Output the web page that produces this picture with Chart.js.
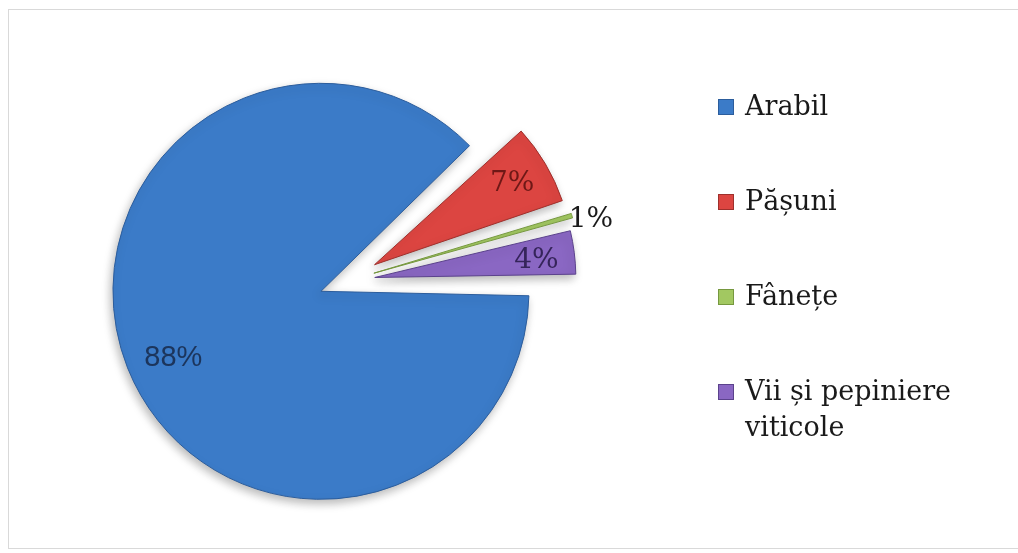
<!DOCTYPE html>
<html>
<head>
<meta charset="utf-8">
<script src="https://cdn.jsdelivr.net/npm/chart.js@4.4.0/dist/chart.umd.min.js"></script>
<style>
  html, body { margin: 0; padding: 0; background: #fff; overflow: hidden; }
  #frame { position: absolute; left: 8px; top: 9px; width: 1030px; height: 540px; border: 1px solid #d9d9d9; box-sizing: border-box; }
  #wrap { position: absolute; left: 0; top: 0; width: 1018px; height: 553px; }
</style>
</head>
<body>
<div id="frame"></div>
<div id="wrap"><canvas id="pieChart"></canvas></div>
<script>
// --- DATA ---
const categories = ['Arabil', 'Pășuni', 'Fânețe', 'Vii și pepiniere viticole'];
const shares = [88, 7, 1, 4];
const shareLabels = ['88%', '7%', '1%', '4%'];

// --- STYLE ---
const sliceColors = ['#3b7bc8', '#dc4541', '#a2c861', '#8a67c3'];
const sliceBorders = ['#2c5d9c', '#9e302c', '#76983f', '#5b428c'];
const sliceOffsets = [112, 128, 112, 112];   // Chart.js v4 moves a slice by offset/4
const labelStyles = [
    { font: '29px "Liberation Sans"', color: '#1c355c', dist: 162, dx: 3, dy: 7 },
    { font: '28px "DejaVu Serif"', color: '#6e1816', dist: 160, dx: 0, dy: 0 },
    { font: '28px "DejaVu Serif"', color: '#1a1a1a', dist: 206, dx: -3, dy: 0, outside: true },
    { font: '28px "DejaVu Serif"', color: '#35245a', dist: 161, dx: 2, dy: 3 }
];
const LEGEND_X = 718;
const LEGEND_TOP = 115;      // baseline of first entry
const LEGEND_STEP = 95;
const LEGEND_LINE = 36;
const LEGEND_FONT = '27px "DejaVu Serif"';
const LEGEND_WRAP = 250;

// soft drop shadow under the slices
const shadowPlugin = {
    id: 'shadow',
    beforeDatasetsDraw(chart) {
        const ctx = chart.ctx;
        ctx.save();
        ctx.shadowColor = 'rgba(0,0,0,0.28)';
        ctx.shadowBlur = 10;
        ctx.shadowOffsetX = -2;
        ctx.shadowOffsetY = 4;
    },
    afterDatasetsDraw(chart) {
        chart.ctx.restore();
    }
};

// percentage labels, placed relative to each (exploded) slice
const pctPlugin = {
    id: 'pctLabels',
    afterDraw(chart) {
        const ctx = chart.ctx;
        const arcs = chart.getDatasetMeta(0).data;
        arcs.forEach((arc, i) => {
            const st = labelStyles[i];
            const mid = (arc.startAngle + arc.endAngle) / 2;
            const shift = (arc.options.offset || 0) / 4;
            const ax = arc.x + Math.cos(mid) * shift;
            const ay = arc.y + Math.sin(mid) * shift;
            const px = ax + Math.cos(mid) * st.dist + st.dx;
            const py = ay + Math.sin(mid) * st.dist + st.dy;
            ctx.save();
            ctx.font = st.font;
            ctx.fillStyle = st.color;
            ctx.textBaseline = 'middle';
            ctx.textAlign = st.outside ? 'left' : 'center';
            ctx.fillText(shareLabels[i], px, st.outside ? py + 4 : py);
            ctx.restore();
        });
    }
};

// legend on the right, with word wrap for long names
const legendPlugin = {
    id: 'sideLegend',
    afterDraw(chart) {
        const ctx = chart.ctx;
        ctx.save();
        ctx.font = LEGEND_FONT;
        categories.forEach((name, i) => {
            const base = LEGEND_TOP + i * LEGEND_STEP;
            ctx.fillStyle = sliceColors[i];
            ctx.strokeStyle = sliceBorders[i];
            ctx.lineWidth = 1;
            ctx.fillRect(LEGEND_X, base - 16, 16, 16);
            ctx.strokeRect(LEGEND_X + 0.5, base - 15.5, 15, 15);

            // wrap words
            const words = name.split(' ');
            const lines = [];
            let line = '';
            words.forEach(w => {
                const test = line ? line + ' ' + w : w;
                if (ctx.measureText(test).width > LEGEND_WRAP && line) {
                    lines.push(line);
                    line = w;
                } else {
                    line = test;
                }
            });
            lines.push(line);

            ctx.fillStyle = '#1a1a1a';
            ctx.textAlign = 'left';
            ctx.textBaseline = 'alphabetic';
            lines.forEach((l, k) => ctx.fillText(l, LEGEND_X + 27, base + k * LEGEND_LINE));
        });
        ctx.restore();
    }
};

function initChart() {
    new Chart(document.getElementById('pieChart'), {
        type: 'pie',
        data: {
            labels: categories,
            datasets: [{
                data: shares,
                backgroundColor: sliceColors,
                borderColor: sliceBorders,
                borderWidth: 1,
                offset: sliceOffsets
            }]
        },
        options: {
            responsive: true,
            maintainAspectRatio: false,
            animation: false,
            rotation: 90,
            radius: 180,
            layout: { padding: { left: 0, right: 324, top: 9, bottom: 0 } },
            plugins: {
                legend: { display: false },
                tooltip: { enabled: false }
            }
        },
        plugins: [shadowPlugin, pctPlugin, legendPlugin]
    });
}

window.onload = initChart;
</script>
</body>
</html>
